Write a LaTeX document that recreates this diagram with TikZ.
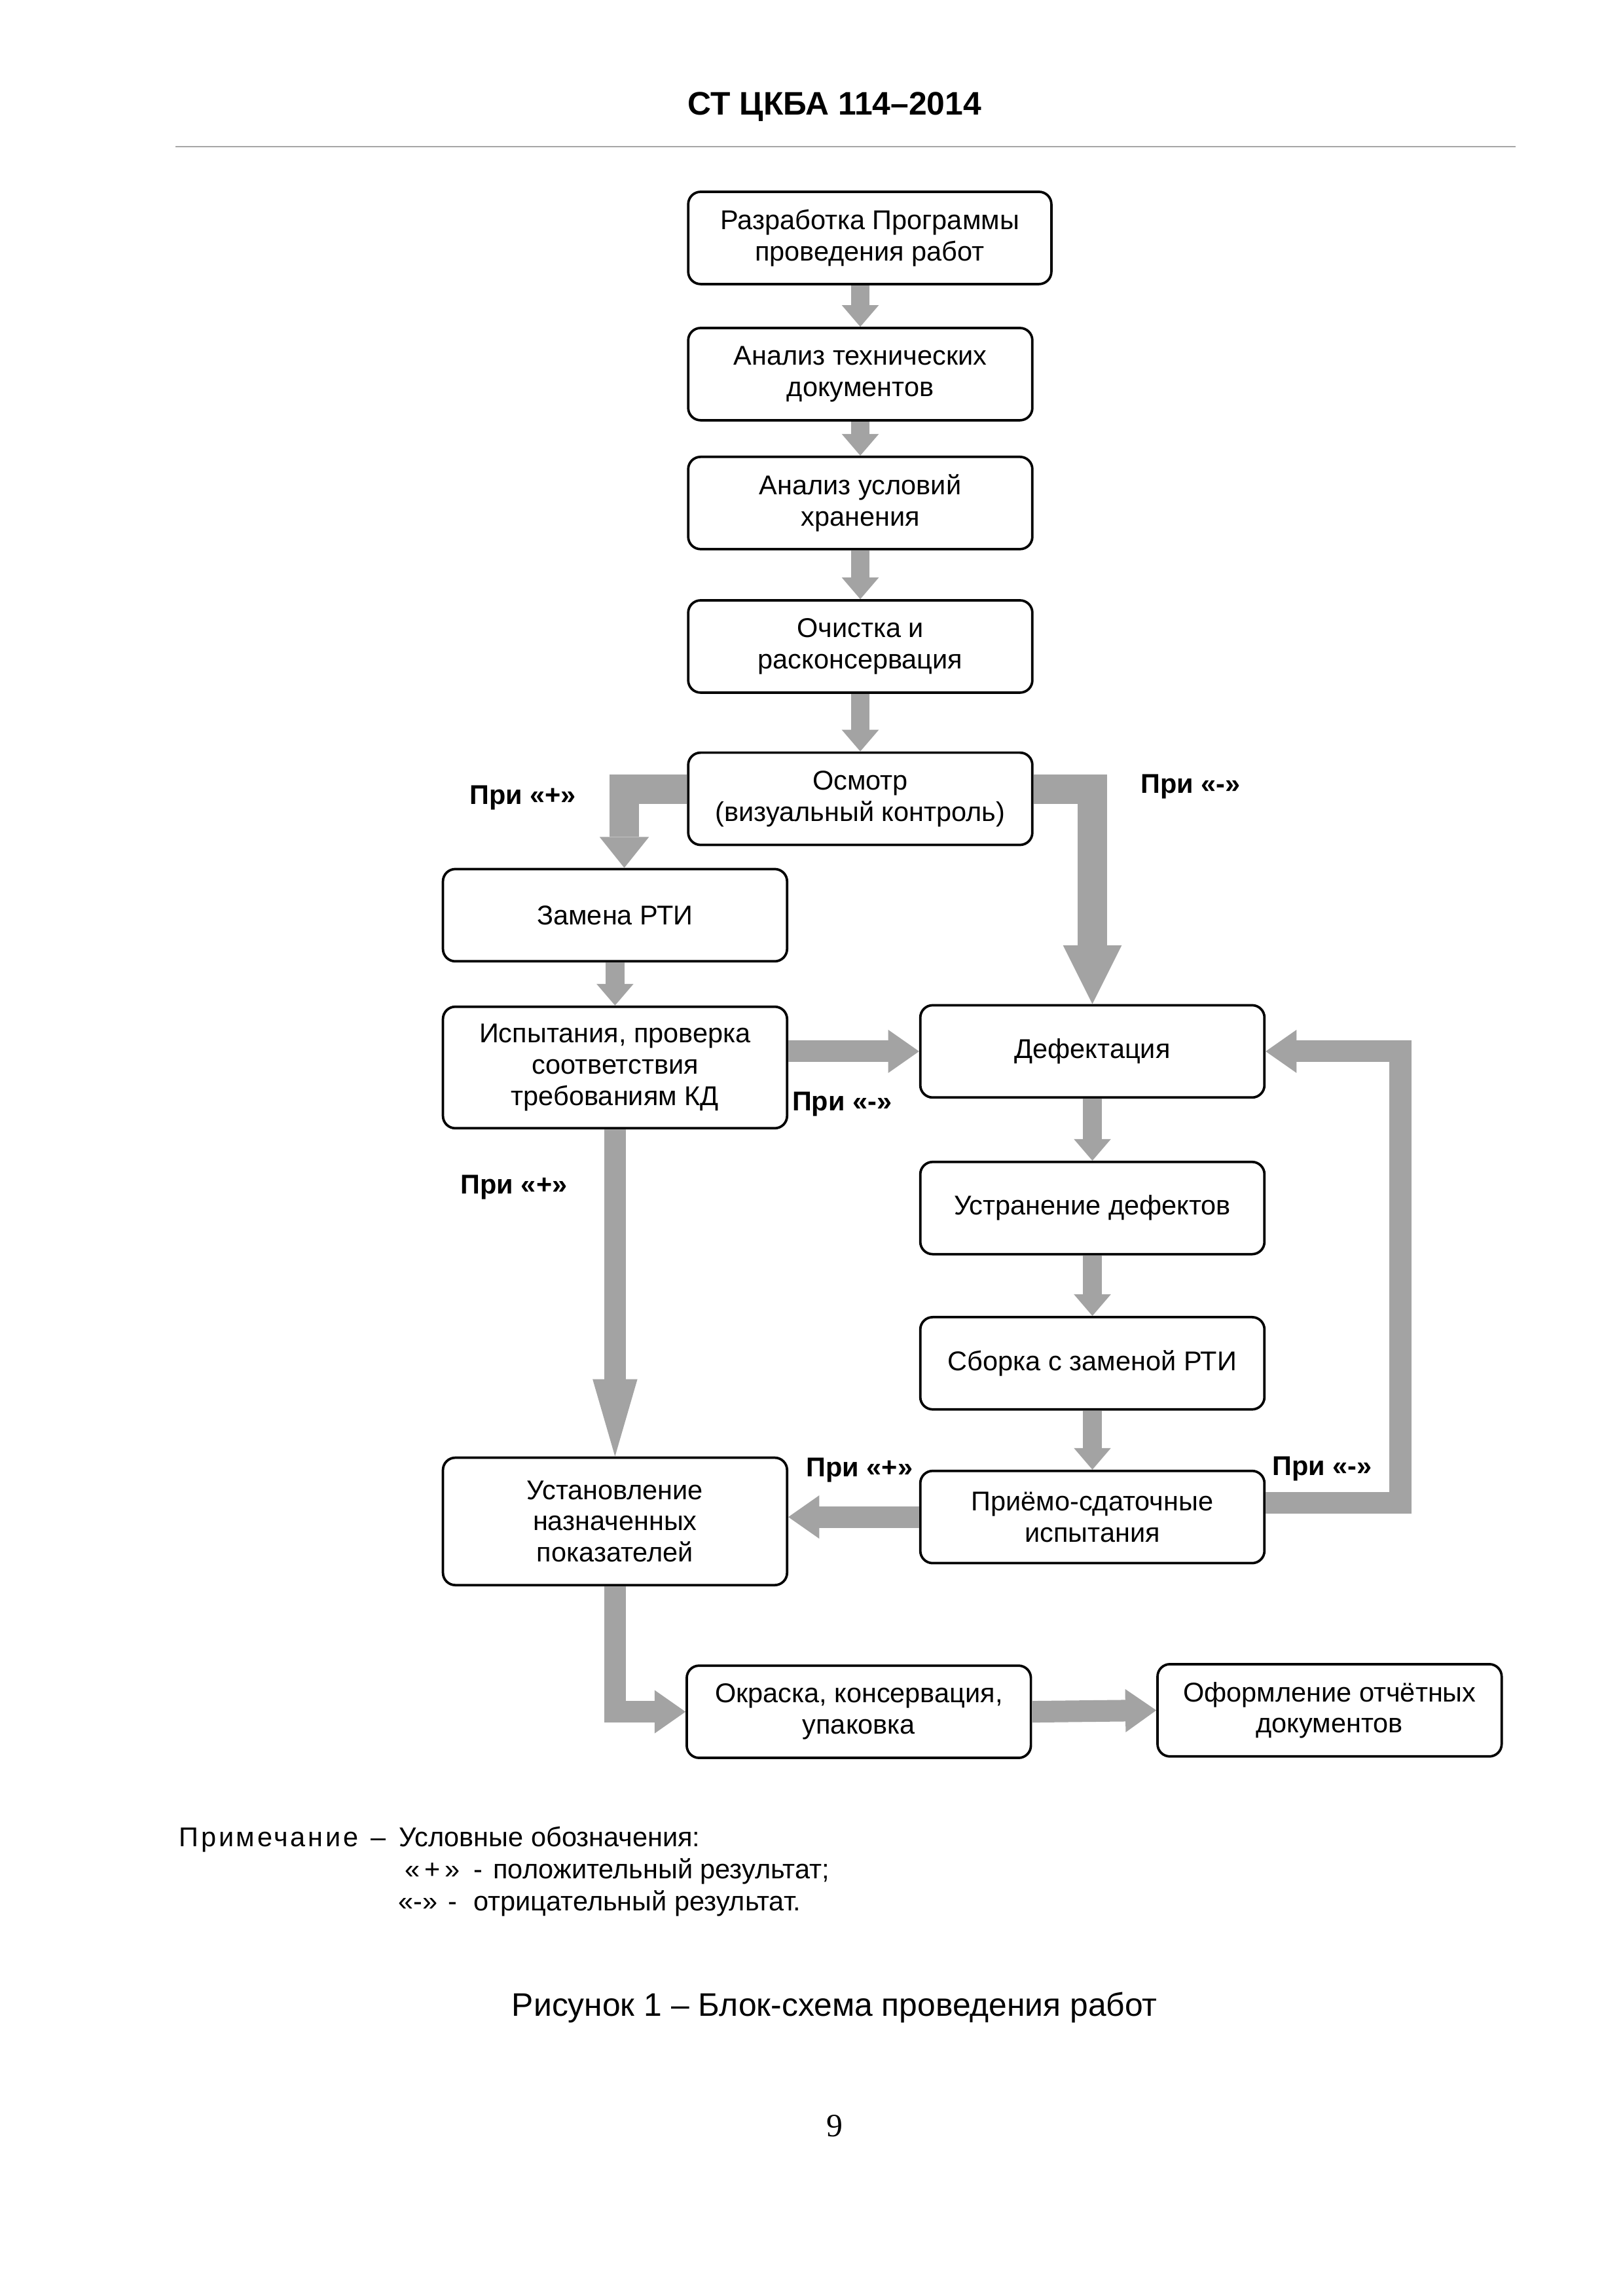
\documentclass[tikz,border=0pt]{standalone}
\usepackage{fontspec}
\setmainfont{Liberation Sans}
\newfontfamily\numfont{Liberation Serif}
\usetikzlibrary{arrows.meta}

\definecolor{arrowgray}{gray}{0.64}
\newcommand{\boxfont}{\fontsize{10}{11.5}\selectfont}
\newcommand{\labfont}{\fontsize{10}{12}\selectfont\bfseries}
\newcommand{\notefont}{\fontsize{10}{12}\selectfont}

\begin{document}
\begin{tikzpicture}[x=0.018953cm, y=-0.018953cm,
    box/.style={draw, rounded corners=0.16cm, line width=0.9pt, align=center,
        minimum width=4.454cm, minimum height=1.194cm, inner sep=2pt, font=\boxfont},
    flow/.style={draw=arrowgray, line width=0.28cm, line join=miter,
        -{Triangle[width=0.56cm,length=0.4cm,line width=0pt]}},
    stub/.style={flow, line width=0.24cm,
        -{Triangle[width=0.48cm,length=0.28cm,line width=0pt]}},
    branch/.style={flow, line width=0.38cm,
        -{Triangle[width=0.64cm,length=0.4cm,line width=0pt]}},
    verdict/.style={font=\labfont, inner sep=1pt}]

    \useasboundingbox (0,0) rectangle (1108,1568);

    % Header of the page
    \node[font=\fontsize{12}{14}\selectfont\bfseries] (head) at (570,73) {СТ ЦКБА 114–2014};
    \draw[gray!70, line width=0.5pt] (120,100) -- (1035,100);

    % Main column
    \node[box, minimum width=4.70cm] (prog) at (594,162.5) {Разработка Программы\\проведения работ};
    \node[box] (docs)  at (587.5,255.5) {Анализ технических\\документов};
    \node[box] (store) at (587.5,343.5) {Анализ условий\\хранения};
    \node[box] (clean) at (587.5,441.5) {Очистка и\\расконсервация};
    \node[box] (look)  at (587.5,545.5) {Осмотр\\(визуальный контроль)};

    % Left branch
    \node[box] (rti) at (420,625) {Замена РТИ};
    \node[box, minimum height=1.573cm] (test) at (420,729) {Испытания, проверка\\соответствия\\требованиям КД};
    \node[box, minimum height=1.649cm] (rate) at (420,1039) {Установление\\назначенных\\показателей};

    % Right branch
    \node[box] (defect) at (746,718)  {Дефектация};
    \node[box] (fix)    at (746,825)  {Устранение дефектов};
    \node[box] (assem)  at (746,931)  {Сборка с заменой РТИ};
    \node[box] (accept) at (746,1036) {Приёмо-сдаточные\\испытания};

    % Final row
    \node[box] (paint)  at (586.5,1169) {Окраска, консервация,\\упаковка};
    \node[box] (report) at (908,1168)   {Оформление отчётных\\документов};

    % Arrows
    \draw[stub] (docs.north |- prog.south) -- (docs.north);
    \draw[stub] (docs.south) -- (store.north);
    \draw[stub] (store.south) -- (clean.north);
    \draw[stub] (clean.south) -- (look.north);
    \draw[stub] (rti.south) -- (test.north);
    \draw[stub] (defect.south) -- (fix.north);
    \draw[stub] (fix.south) -- (assem.north);
    \draw[stub] (assem.south) -- (accept.north);

    \draw[branch] ([yshift=0.12cm]look.west) -| ([xshift=0.12cm]rti.north);
    \draw[branch, -{Triangle[width=0.76cm,length=0.76cm,line width=0pt]}]
        ([yshift=0.12cm]look.east) -| (defect.north);
    \draw[flow] (test.east |- defect.west) -- (defect.west);
    \draw[flow, -{Triangle[width=0.58cm,length=1.0cm,line width=0pt]}] (test.south) -- (rate.north);
    \draw[flow] (accept.west) -- (accept.west -| rate.east);
    \draw[flow] ([yshift=0.18cm]accept.east) -- ++(92,0) |- (defect.east);
    \draw[flow] (rate.south) |- (paint.west);
    \draw[flow] (paint.east) -- (report.west);

    % Labels
    \node[verdict] (lookyes)  at (357,545)  {При «+»};
    \node[verdict] (lookno)   at (813,537)  {При «-»};
    \node[verdict] (testno)   at (575,754)  {При «-»};
    \node[verdict] (testyes)  at (351,811)  {При «+»};
    \node[verdict] (acceptyes) at (587,1004) {При «+»};
    \node[verdict] (acceptno) at (903,1003) {При «-»};

    % Note and caption
    \node[anchor=base west, font=\notefont, inner sep=0pt] (note) at (122,1261)
        {{\addfontfeature{LetterSpace=9}Примечание}\hspace{4.5pt}–\hspace{5pt}Условные обозначения:};
    \node[anchor=base west, font=\notefont, inner sep=0pt] (noteplus) at (276,1283)
        {«\,+\,»\hspace{5pt}-\hspace{4pt}положительный результат;};
    \node[anchor=base west, font=\notefont, inner sep=0pt] (noteminus) at (271.6,1305)
        {«-»\hspace{4pt}-\hspace{6pt}отрицательный результат.};
    \node[font=\fontsize{12}{14}\selectfont] (caption) at (570,1371) {Рисунок 1 – Блок-схема проведения работ};
    \node[font=\numfont\fontsize{12}{14}\selectfont] (pageno) at (570,1452) {9};
\end{tikzpicture}
\end{document}
